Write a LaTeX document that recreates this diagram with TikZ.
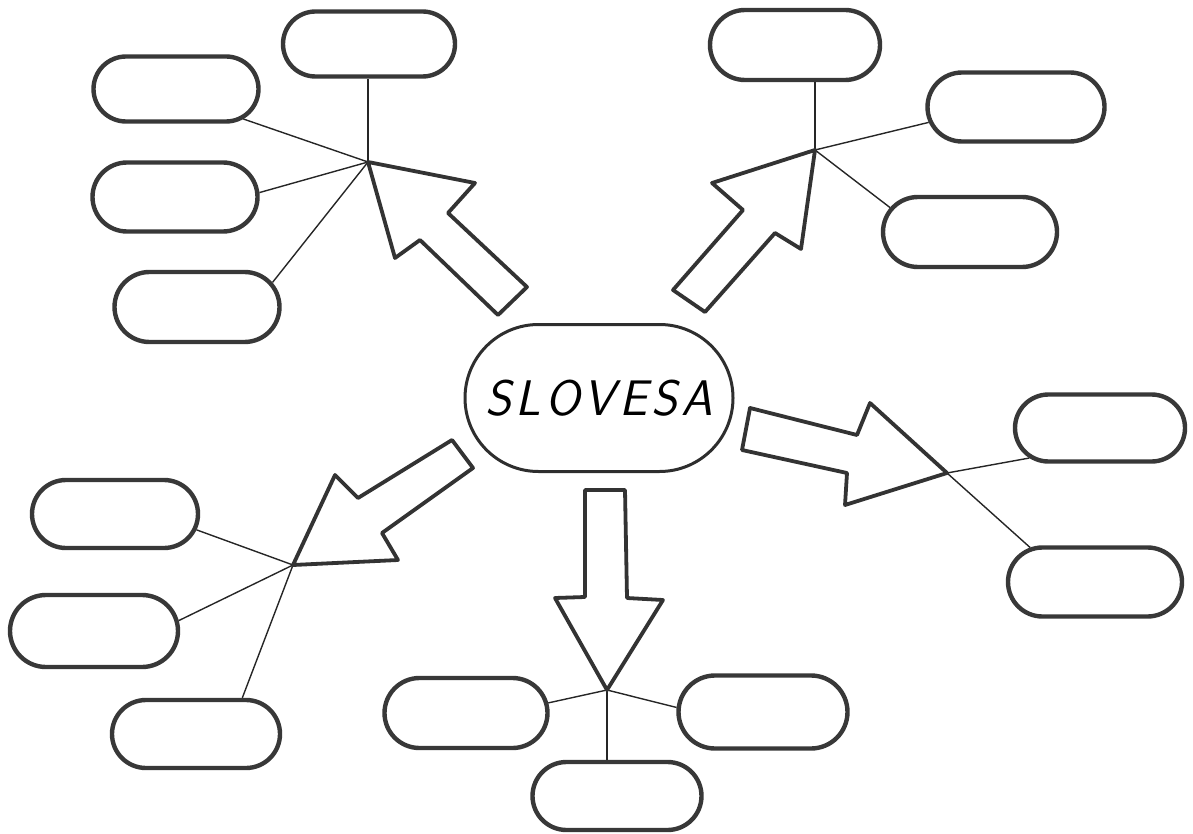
\documentclass[tikz,border=0pt]{standalone}
\usetikzlibrary{shapes.misc}
\begin{document}
\begin{tikzpicture}[x=1pt,y=-1pt,
  blank/.style={rounded rectangle, draw=black!78, line width=4.4pt,
    minimum width=168pt, minimum height=68pt, inner sep=0pt},
  hubline/.style={draw=black!85, line width=1.4pt},
  bigarrow/.style={draw=black!80, line width=3.8pt, line join=round, fill=white}]
\useasboundingbox (0,0) rectangle (1193,834);

% central topic
\node[rounded rectangle, draw=black!82, line width=3pt, minimum width=268pt,
      minimum height=147pt, inner sep=0pt] (main) at (599,398)
  {\fontsize{50}{50}\selectfont\sffamily\itshape
   S\kern4pt L\kern4pt O\kern4pt V\kern4pt E\kern4pt S\kern4pt A};

% hubs where each arrow points
\coordinate (ha) at (368,162);
\coordinate (hb) at (815,150);
\coordinate (hc) at (947,473);
\coordinate (hd) at (293,565);
\coordinate (he) at (607,690);

% upper-left group
\node[blank, minimum width=172pt, minimum height=65pt] (a1) at (369,44) {};
\node[blank, minimum width=165pt, minimum height=65pt] (a2) at (176,89) {};
\node[blank, minimum width=165pt, minimum height=69pt] (a3) at (175,197) {};
\node[blank, minimum width=165pt, minimum height=70pt] (a4) at (197,307) {};
% upper-right group
\node[blank, minimum width=170pt, minimum height=70pt] (b1) at (795,45) {};
\node[blank, minimum width=177pt, minimum height=69pt] (b2) at (1016,107) {};
\node[blank, minimum width=174pt, minimum height=70pt] (b3) at (970,232) {};
% right group
\node[blank, minimum width=170pt, minimum height=67pt] (c1) at (1100,428) {};
\node[blank, minimum width=174pt, minimum height=69pt] (c2) at (1095,582) {};
% lower-left group
\node[blank, minimum width=166pt, minimum height=68pt] (d1) at (115,514) {};
\node[blank, minimum width=168pt, minimum height=72pt] (d2) at (94,631) {};
\node[blank, minimum width=168pt, minimum height=68pt] (d3) at (196,734) {};
% bottom group
\node[blank, minimum width=163pt, minimum height=70pt] (e1) at (466,713) {};
\node[blank, minimum width=169pt, minimum height=73pt] (e2) at (763,712) {};
\node[blank, minimum width=169pt, minimum height=68pt] (e3) at (617,796) {};

% connectors from the hubs to the blanks
\draw[hubline] (ha) -- (ha |- a1.south);
\draw[hubline] (ha) -- (a2.-24);
\draw[hubline] (ha) -- (a3.3);
\draw[hubline] (ha) -- (a4.18);

\draw[hubline] (hb) -- (hb |- b1.south);
\draw[hubline] (hb) -- (b2.190);
\draw[hubline] (hb) -- (b3.163);

\draw[hubline] (hc) -- (c1.203);
\draw[hubline] (hc) -- (c2.152);

\draw[hubline] (hd) -- (d1.-11);
\draw[hubline] (hd) -- (d2.7);
\draw[hubline] (hd) -- (d3.38);

\draw[hubline] (he) -- (e1.7);
\draw[hubline] (he) -- (e2.177);
\draw[hubline] (he) -- (he |- e3.north);

% block arrows from the topic out to each hub
\draw[bigarrow] (ha) -- (475,183) -- (448,213) -- (527,287) -- (498,315)
  -- (420,240) -- (395,258) -- cycle;
\draw[bigarrow] (hb) -- (712,183) -- (743,210) -- (673,290) -- (705,312)
  -- (775,233) -- (801,249) -- cycle;
\draw[bigarrow] (hc) -- (870,403) -- (857,435) -- (750,408) -- (742,450)
  -- (847,473) -- (845,505) -- cycle;
\draw[bigarrow] (hd) -- (335,475) -- (358,498) -- (452,440) -- (473,468)
  -- (382,533) -- (398,560) -- cycle;
\draw[bigarrow] (he) -- (555,598) -- (585,597) -- (585,490) -- (625,490)
  -- (627,598) -- (663,600) -- cycle;
\end{tikzpicture}
\end{document}
